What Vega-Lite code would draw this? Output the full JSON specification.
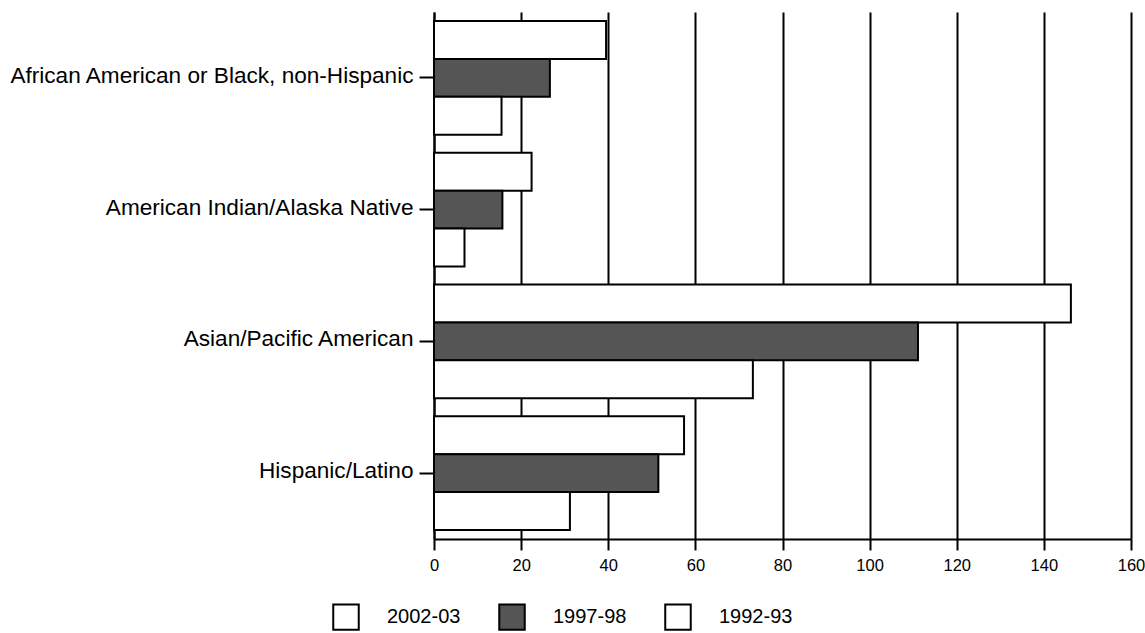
{
  "$schema": "https://vega.github.io/schema/vega-lite/v6.json",
  "autosize": {"type": "none"},
  "width": 697,
  "height": 527,
  "padding": {"left": 434, "top": 12, "right": 14, "bottom": 94},
  "background": "white",
  "config": {
    "view": {"stroke": null},
    "font": "Liberation Sans"
  },
  "data": {
    "values": [
      {"group": "African American or Black, non-Hispanic", "series": "2002-03", "value": 39.5},
      {"group": "African American or Black, non-Hispanic", "series": "1997-98", "value": 26.6},
      {"group": "African American or Black, non-Hispanic", "series": "1992-93", "value": 15.5},
      {"group": "American Indian/Alaska Native", "series": "2002-03", "value": 22.4},
      {"group": "American Indian/Alaska Native", "series": "1997-98", "value": 15.7},
      {"group": "American Indian/Alaska Native", "series": "1992-93", "value": 7.0},
      {"group": "Asian/Pacific American", "series": "2002-03", "value": 146.2},
      {"group": "Asian/Pacific American", "series": "1997-98", "value": 111.1},
      {"group": "Asian/Pacific American", "series": "1992-93", "value": 73.2},
      {"group": "Hispanic/Latino", "series": "2002-03", "value": 57.4},
      {"group": "Hispanic/Latino", "series": "1997-98", "value": 51.5},
      {"group": "Hispanic/Latino", "series": "1992-93", "value": 31.2}
    ]
  },
  "mark": {"type": "bar", "stroke": "black", "strokeWidth": 2, "strokeJoin": "miter"},
  "encoding": {
    "y": {
      "field": "group",
      "type": "nominal",
      "sort": null,
      "title": null,
      "scale": {"paddingInner": 0.135, "paddingOuter": 0.0675},
      "axis": {
        "domainColor": "black",
        "domainWidth": 2,
        "tickColor": "black",
        "tickWidth": 2,
        "tickSize": 15,
        "labelPadding": 6,
        "labelFontSize": 22.6,
        "labelColor": "black",
        "labelFont": "Liberation Sans",
        "labelLimit": 0,
        "labelOffset": -2
      }
    },
    "yOffset": {
      "field": "series",
      "sort": ["2002-03", "1997-98", "1992-93"],
      "scale": {"paddingInner": 0, "paddingOuter": 0}
    },
    "x": {
      "field": "value",
      "type": "quantitative",
      "title": null,
      "scale": {"domain": [0, 160], "nice": false},
      "axis": {
        "values": [0, 20, 40, 60, 80, 100, 120, 140, 160],
        "grid": true,
        "gridColor": "black",
        "gridWidth": 2,
        "gridOpacity": 1,
        "domainColor": "black",
        "domainWidth": 2,
        "tickColor": "black",
        "tickWidth": 2,
        "tickSize": 11,
        "labelPadding": 7,
        "labelFontSize": 16.5,
        "labelColor": "black",
        "labelFont": "Liberation Sans",
        "labelFlush": false
      }
    },
    "fill": {
      "field": "series",
      "type": "nominal",
      "sort": ["2002-03", "1997-98", "1992-93"],
      "scale": {"domain": ["2002-03", "1997-98", "1992-93"], "range": ["white", "#555555", "white"]},
      "legend": {
        "title": null,
        "orient": "none",
        "direction": "horizontal",
        "legendX": -102,
        "legendY": 591,
        "padding": 0,
        "symbolType": "square",
        "symbolSize": 650,
        "symbolStrokeColor": "black",
        "symbolStrokeWidth": 2,
        "symbolOpacity": 1,
        "labelFontSize": 20,
        "labelColor": "black",
        "labelFont": "Liberation Sans",
        "labelOffset": 27,
        "columnPadding": 34
      }
    }
  }
}
